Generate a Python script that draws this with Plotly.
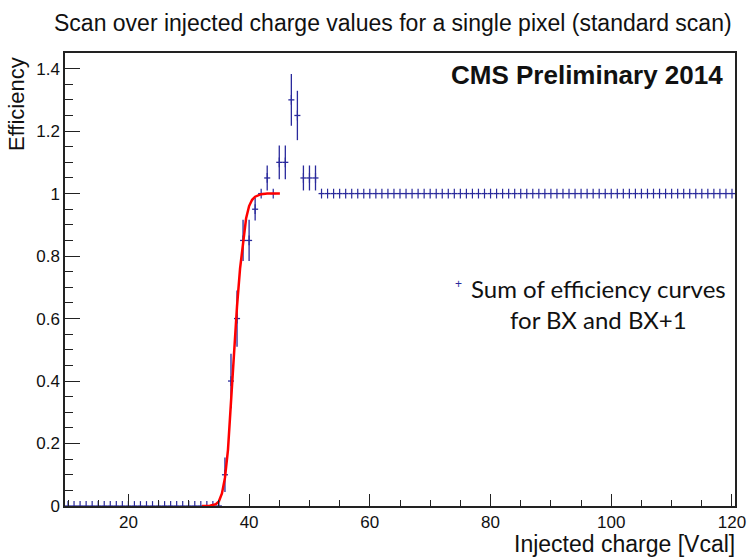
import plotly.graph_objects as go

# ---- data ----
bins = list(range(10, 121))                 # injected charge bins [Vcal]
eff_low = [0.0] * 26                        # bins 10..35
eff_rise = [0.10, 0.40, 0.60, 0.85, 0.85, 0.95, 1.00, 1.05, 1.00,
            1.10, 1.10, 1.30, 1.25, 1.05, 1.05, 1.05, 1.00]   # bins 36..52
err_rise = [0.055, 0.087, 0.090, 0.066, 0.066, 0.036, 0.0, 0.040, 0.0,
            0.054, 0.054, 0.083, 0.079, 0.040, 0.040, 0.040, 0.0]
eff_high = [1.0] * 68                       # bins 53..120

efficiency = eff_low + eff_rise + eff_high
eff_err = [0.0] * len(eff_low) + err_rise + [0.0] * len(eff_high)

# fitted turn-on curve
fit_x = [32.2, 33.5, 34.5, 35.0, 35.5, 36.0, 36.5, 37.0, 37.5, 38.0, 38.5,
         39.0, 39.5, 40.0, 40.5, 41.0, 42.0, 43.0, 45.1]
fit_y = [0.0, 0.001, 0.006, 0.015, 0.04, 0.09, 0.18, 0.33, 0.50, 0.64, 0.76,
         0.85, 0.92, 0.96, 0.98, 0.99, 0.998, 1.0, 1.0]

title_text = "Scan over injected charge values for a single pixel (standard scan)"
cms_text = "CMS Preliminary 2014"
legend_text = "Sum of efficiency curves<br>for BX and BX+1"
x_title = "Injected charge [Vcal]"
y_title = "Efficiency"

BLUE = "#2a2a9c"
FONT = "Liberation Sans, Arial, sans-serif"

fig = go.Figure()
fig.add_trace(go.Scatter(
    x=bins, y=efficiency, mode="markers",
    marker=dict(symbol="line-ns-open", size=7, color=BLUE,
                line=dict(width=1.2, color=BLUE)),
    error_y=dict(type="data", array=eff_err, visible=True, width=0,
                 thickness=1.3, color=BLUE),
    error_x=dict(type="constant", value=0.5, visible=True, width=0,
                 thickness=1.3, color=BLUE),
    showlegend=False,
))
fig.add_trace(go.Scatter(
    x=fit_x, y=fit_y, mode="lines",
    line=dict(color="#ff0000", width=2.5),
    showlegend=False,
))

axis_common = dict(
    showline=True, linecolor="#222222", linewidth=1.5, mirror=True,
    ticks="inside", tickcolor="#222222", tickwidth=1,
    showgrid=False, zeroline=False, automargin=False,
    tickfont=dict(family=FONT, size=17, color="#111111"),
)
fig.update_xaxes(range=[9.5, 120.5], tick0=0, dtick=20, ticklen=12,
                 minor=dict(ticks="inside", tick0=0, dtick=5, ticklen=6,
                            tickcolor="#222222", showgrid=False),
                 **axis_common)
fig.update_yaxes(range=[0, 1.45], tick0=0, dtick=0.2, ticklen=15,
                 minor=dict(ticks="inside", tick0=0, dtick=0.05, ticklen=8,
                            tickcolor="#222222", showgrid=False),
                 **axis_common)

annotations = [
    dict(text=title_text, xref="paper", yref="paper", x=-0.0194, y=1.066,
         xanchor="left", yanchor="middle", showarrow=False,
         font=dict(family=FONT, size=23, color="#111111")),
    dict(text="<b>" + cms_text + "</b>", xref="paper", yref="paper",
         x=0.9855, y=0.952, xanchor="right", yanchor="middle", showarrow=False,
         font=dict(family=FONT, size=26, color="#111111")),
    dict(text=legend_text, xref="paper", yref="paper", x=0.797, y=0.447,
         xanchor="center", yanchor="middle", align="center", showarrow=False,
         font=dict(family="Lato, sans-serif", size=24, color="#111111")),
    dict(text="+", xref="paper", yref="paper", x=0.588, y=0.49,
         xanchor="center", yanchor="middle", showarrow=False,
         font=dict(family=FONT, size=12, color=BLUE)),
    dict(text=x_title, xref="paper", yref="paper", x=1.0034, y=-0.084,
         xanchor="right", yanchor="middle", showarrow=False,
         font=dict(family=FONT, size=23, color="#111111")),
    dict(text=y_title, xref="paper", yref="paper", x=-0.072, y=0.995,
         xanchor="center", yanchor="top", textangle=-90, showarrow=False,
         font=dict(family=FONT, size=22, color="#111111")),
]

fig.update_layout(
    width=748, height=558,
    margin=dict(l=65, r=13, t=53, b=52, autoexpand=False),
    paper_bgcolor="white", plot_bgcolor="white",
    annotations=annotations,
    showlegend=False,
)

fig.write_html("out.html", config={"displayModeBar": False},
               post_script="document.body.style.margin='0';document.body.style.overflow='hidden';")
